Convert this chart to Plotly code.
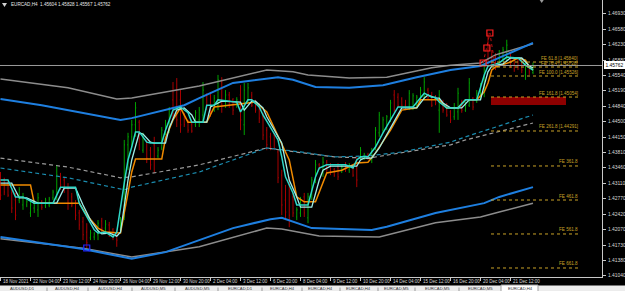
import plotly.graph_objects as go

# ---------------- data ----------------
bar_open = [1.4330,1.4319,1.4312,1.4290,1.4274,1.4274,1.4263,1.4263,1.4245,1.4256,1.4252,1.4270,1.4261,1.4263,1.4279,1.4285,1.4326,1.4319,1.4301,1.4281,
            1.4267,1.4245,1.4225,1.4202,1.4189,1.4191,1.4196,1.4227,1.4211,1.4218,1.4207,1.4196,1.4207,1.4236,1.4398,1.4416,1.4443,1.4449,1.4386,1.4404,
            1.4386,1.4398,1.4373,1.4391,1.4429,1.4431,1.4499,1.4521,1.4499,1.4465,1.4449,1.4443,1.4443,1.4454,1.4465,1.4510,1.4510,1.4476,1.4487,1.4539,
            1.4487,1.4510,1.4499,1.4487,1.4510,1.4443,1.4499,1.4510,1.4494,1.4483,1.4461,1.4431,1.4416,1.4420,1.4382,1.4330,1.4274,1.4308,1.4281,1.4236,
            1.4245,1.4281,1.4234,1.4281,1.4319,1.4353,1.4337,1.4359,1.4353,1.4342,1.4348,1.4337,1.4348,1.4342,1.4348,1.4364,1.4368,1.4368,1.4375,1.4364,
            1.4391,1.4425,1.4431,1.4436,1.4458,1.4510,1.4505,1.4501,1.4487,1.4483,1.4483,1.4487,1.4499,1.4505,1.4521,1.4510,1.4505,1.4476,1.4494,1.4487,
            1.4472,1.4461,1.4472,1.4494,1.4476,1.4487,1.4503,1.4496,1.4505,1.4521,1.4611,1.4600,1.4595,1.4582,1.4593,1.4600,1.4600,1.4589,1.4589,1.4582,
            1.4555,1.4573,1.45604]
bar_high = [1.4337,1.4324,1.4319,1.4297,1.4290,1.4303,1.4290,1.4274,1.4274,1.4274,1.4290,1.4274,1.4279,1.4281,1.4297,1.4353,1.4335,1.4326,1.4312,1.4290,
            1.4274,1.4252,1.4236,1.4222,1.4207,1.4202,1.4229,1.4234,1.4229,1.4225,1.4211,1.4207,1.4236,1.4409,1.4425,1.4454,1.4494,1.4454,1.4425,1.4409,
            1.4393,1.4416,1.4393,1.4438,1.4454,1.4483,1.4539,1.4548,1.4521,1.4470,1.4454,1.4447,1.4476,1.4483,1.4539,1.4514,1.4517,1.4510,1.4555,1.4550,
            1.4521,1.4517,1.4503,1.4505,1.4532,1.4537,1.4537,1.4517,1.4499,1.4492,1.4470,1.4438,1.4425,1.4425,1.4386,1.4342,1.4308,1.4326,1.4290,1.4258,
            1.4281,1.4290,1.4290,1.4326,1.4364,1.4357,1.4371,1.4364,1.4357,1.4346,1.4357,1.4353,1.4359,1.4357,1.4353,1.4371,1.4393,1.4380,1.4380,1.4391,
            1.4438,1.4472,1.4461,1.4465,1.4499,1.4521,1.4514,1.4505,1.4499,1.4521,1.4514,1.4510,1.4528,1.4550,1.4526,1.4517,1.4510,1.4521,1.4499,1.4492,
            1.4476,1.4492,1.4526,1.4499,1.4494,1.4548,1.4505,1.4521,1.4537,1.4582,1.4649,1.4611,1.4604,1.4611,1.4618,1.4634,1.4604,1.4593,1.4595,1.4589,
            1.4582,1.4575,1.45828]
bar_low = [1.4274,1.4285,1.4281,1.4245,1.4229,1.4267,1.4252,1.4258,1.4236,1.4245,1.4236,1.4252,1.4256,1.4258,1.4274,1.4274,1.4297,1.4290,1.4252,1.4258,
           1.4229,1.4207,1.4184,1.4166,1.4184,1.4184,1.4184,1.4200,1.4202,1.4191,1.4184,1.4169,1.4200,1.4229,1.4341,1.4393,1.4416,1.4386,1.4380,1.4357,
           1.4342,1.4335,1.4368,1.4386,1.4420,1.4425,1.4454,1.4438,1.4425,1.4438,1.4425,1.4425,1.4438,1.4438,1.4449,1.4476,1.4461,1.4472,1.4476,1.4470,
           1.4481,1.4481,1.4465,1.4481,1.4431,1.4420,1.4492,1.4483,1.4470,1.4447,1.4409,1.4386,1.4386,1.4386,1.4312,1.4240,1.4229,1.4213,1.4236,1.4229,
           1.4236,1.4236,1.4222,1.4274,1.4312,1.4342,1.4326,1.4335,1.4330,1.4326,1.4319,1.4335,1.4337,1.4335,1.4326,1.4303,1.4364,1.4364,1.4364,1.4357,
           1.4386,1.4416,1.4425,1.4431,1.4449,1.4470,1.4483,1.4483,1.4476,1.4476,1.4476,1.4483,1.4492,1.4499,1.4499,1.4483,1.4487,1.4425,1.4470,1.4461,
           1.4447,1.4454,1.4454,1.4470,1.4472,1.4483,1.4476,1.4492,1.4499,1.4505,1.4573,1.4573,1.4566,1.4573,1.4584,1.4589,1.4571,1.4562,1.4566,1.4559,
           1.4544,1.4555,1.45567]
bar_close = [1.4285,1.4292,1.4285,1.4256,1.4240,1.4297,1.4281,1.4270,1.4263,1.4267,1.4279,1.4258,1.4274,1.4276,1.4292,1.4330,1.4308,1.4297,1.4267,1.4263,
             1.4240,1.4218,1.4196,1.4178,1.4200,1.4198,1.4222,1.4211,1.4220,1.4200,1.4191,1.4184,1.4229,1.4398,1.4416,1.4443,1.4481,1.4398,1.4413,1.4368,
             1.4353,1.4364,1.4386,1.4431,1.4445,1.4476,1.4465,1.4454,1.4443,1.4443,1.4431,1.4429,1.4470,1.4476,1.4521,1.4487,1.4472,1.4503,1.4544,1.4487,
             1.4510,1.4487,1.4476,1.4499,1.4454,1.4521,1.4526,1.4487,1.4476,1.4458,1.4420,1.4398,1.4393,1.4391,1.4324,1.4263,1.4247,1.4240,1.4245,1.4252,
             1.4274,1.4245,1.4281,1.4319,1.4353,1.4346,1.4359,1.4342,1.4337,1.4330,1.4326,1.4348,1.4342,1.4353,1.4330,1.4319,1.4386,1.4375,1.4368,1.4386,
             1.4431,1.4465,1.4454,1.4461,1.4492,1.4476,1.4487,1.4487,1.4483,1.4514,1.4508,1.4505,1.4521,1.4539,1.4505,1.4487,1.4492,1.4510,1.4476,1.4465,
             1.4454,1.4483,1.4514,1.4476,1.4487,1.4537,1.4483,1.4514,1.4528,1.4577,1.4584,1.4582,1.4577,1.4604,1.4611,1.4622,1.4582,1.4571,1.4573,1.4566,
             1.4575,1.4562,1.45762]
bar_idx = list(range(len(bar_close)))

cyan_x = [0,2,4,6,9,14,16,20,21,23,25,26,28,30,31,33,34,35,36,37,39,40,43,44,46,48,50,51,54,55,57,58,63,64,66,67,69,70,74,75,76,78,79,82,84,85,87,92,94,95,96,98,100,102,104,106,110,112,113,115,116,117,119,122,124,127,128,129,130,133,135,138,140,141,142]
cyan_y = [1.4319,1.4319,1.4281,1.4281,1.4267,1.4267,1.4303,1.4303,1.4267,1.4236,1.4207,1.4200,1.4202,1.4191,1.4202,1.4312,1.4364,1.4393,1.4427,1.4427,1.4404,1.4402,1.4402,1.4431,1.4476,1.4483,1.4470,1.4449,1.4449,1.4487,1.4487,1.4499,1.4494,1.4472,1.4499,1.4499,1.4483,1.4465,1.4409,1.4371,1.4326,1.4290,1.4263,1.4263,1.4326,1.4346,1.4353,1.4353,1.4346,1.4364,1.4371,1.4371,1.4393,1.4425,1.4454,1.4483,1.4483,1.4505,1.4514,1.4505,1.4505,1.4494,1.4481,1.4481,1.4499,1.4499,1.4526,1.4555,1.4575,1.4582,1.4595,1.4593,1.4577,1.4571,1.4566]

pale_x = [0,3,5,7,10,15,17,20,22,24,26,27,29,31,32,34,35,36,37,38,40,41,44,45,47,49,51,52,55,56,58,59,64,65,67,68,70,71,75,76,77,79,80,83,85,86,88,95,96,97,99,101,103,105,107,111,113,114,116,117,118,120,123,125,128,129,130,131,134,136,139,141,142]
pale_y = [1.4312,1.4312,1.4279,1.4279,1.4267,1.4267,1.4301,1.4301,1.4263,1.4229,1.4205,1.4198,1.4200,1.4193,1.4202,1.4319,1.4364,1.4398,1.4425,1.4422,1.4404,1.4402,1.4402,1.4436,1.4476,1.4481,1.4465,1.4449,1.4449,1.4483,1.4492,1.4496,1.4494,1.4476,1.4496,1.4496,1.4481,1.4461,1.4402,1.4364,1.4319,1.4281,1.4258,1.4258,1.4319,1.4341,1.4350,1.4350,1.4364,1.4368,1.4368,1.4391,1.4422,1.4452,1.4481,1.4481,1.4503,1.4510,1.4503,1.4503,1.4492,1.4481,1.4481,1.4499,1.4499,1.4532,1.4562,1.4575,1.4580,1.4593,1.4593,1.4575,1.4571]

orange_x = [0,8,9,21,23,26,28,32,34,35,36,43,44,46,48,50,55,57,66,68,71,74,77,79,81,84,87,91,95,98,100,104,107,111,112,117,119,122,124,127,129,130,131,132,136,138,140,141,142]
orange_y = [1.4308,1.4308,1.4267,1.4267,1.4240,1.4211,1.4202,1.4200,1.4290,1.4337,1.4366,1.4366,1.4413,1.4454,1.4481,1.4449,1.4449,1.4483,1.4492,1.4494,1.4472,1.4416,1.4364,1.4281,1.4270,1.4270,1.4335,1.4341,1.4357,1.4359,1.4380,1.4431,1.4476,1.4481,1.4499,1.4499,1.4481,1.4481,1.4499,1.4499,1.4517,1.4537,1.4566,1.4573,1.4584,1.4593,1.4588,1.4573,1.4566]

up_gray_x = [0,18,31,35,53,71,78,82,93,103,115,120,128,132,142]
up_gray_y = [1.4546,1.4526,1.4501,1.4503,1.4530,1.4566,1.4562,1.4555,1.4548,1.4550,1.4571,1.4577,1.4582,1.4600,1.4625]
up_blue_x = [0,11,32,35,49,53,62,74,78,84,93,102,111,120,128,142]
up_blue_y = [1.4501,1.4487,1.4454,1.4458,1.4487,1.4503,1.4537,1.4550,1.4544,1.4528,1.4526,1.4532,1.4550,1.4566,1.4575,1.4627]
mid_gray_x = [0,18,32,35,53,71,75,89,98,107,120,124,142]
mid_gray_y = [1.4368,1.4348,1.4324,1.4326,1.4353,1.4391,1.4386,1.4371,1.4368,1.4380,1.4398,1.4409,1.4447]
mid_teal_x = [0,18,33,35,53,67,71,80,89,98,107,120,124,142]
mid_teal_y = [1.4346,1.4324,1.4297,1.4303,1.4337,1.4380,1.4391,1.4382,1.4371,1.4373,1.4382,1.4404,1.4416,1.4465]
lo_blue_x = [0,22,35,44,62,72,75,83,99,103,116,129,133,142]
lo_blue_y = [1.4191,1.4164,1.4142,1.4157,1.4211,1.4231,1.4234,1.4211,1.4207,1.4214,1.4245,1.4267,1.4281,1.4303]
lo_gray_x = [0,22,35,53,71,75,85,101,116,128,133,142]
lo_gray_y = [1.4187,1.4166,1.4146,1.4169,1.4211,1.4209,1.4193,1.4191,1.4223,1.4236,1.4247,1.4267]

fe_levels = ["61.8", "76.4", "100.0", "161.8", "261.8", "361.8", "461.8", "561.8", "661.8"]
fe_prices = [1.45840, 1.45728, 1.45526, 1.45054, 1.44291, 1.43505, 1.42741, 1.41978, 1.41214]
fe_show_price = [True, True, True, True, True, False, False, False, False]
fe_start, fe_end = 130.8, 154.5
zone_x = [130.8, 150.8]
zone_y = [1.44875, 1.45054]

zz_x = [128.7, 129.7, 130.5]
zz_y = [1.45818, 1.46155, 1.46492]
zz_path_x = [128.7, 129.7, 130.5, 132.0]
zz_path_y = [1.45818, 1.46155, 1.46492, 1.45706]
low_mark_x, low_mark_y = [23], [1.41663]

current_price = 1.45762
header = "EURCAD,H4  1.45604 1.45828 1.45567 1.45762"

price_ticks = [1.46930, 1.46580, 1.46230, 1.45880, 1.45540, 1.45190, 1.44840, 1.44500, 1.44150,
               1.43810, 1.43460, 1.43110, 1.42770, 1.42420, 1.42070, 1.41730, 1.41380, 1.41040]
time_idx = [0, 8, 16, 24, 32, 40, 48, 56, 64, 72, 80, 88, 96, 104, 112, 120, 128, 136]
time_text = ["18 Nov 2021", "22 Nov 04:00", "23 Nov 12:00", "24 Nov 20:00", "26 Nov 04:00", "29 Nov 12:00",
             "30 Nov 20:00", "2 Dec 04:00", "3 Dec 12:00", "6 Dec 20:00", "8 Dec 04:00", "9 Dec 12:00",
             "10 Dec 20:00", "14 Dec 04:00", "15 Dec 12:00", "16 Dec 20:00", "20 Dec 04:00", "21 Dec 12:00"]
tab_names = ["AUDUSD,D1", "AUDUSD,H4", "AUDUSD,H4", "AUDUSD,M5", "AUDUSD,M5", "EURCAD,D1", "EURCAD,H4",
             "EURCAD,H4", "EURCAD,H4", "EURCAD,M5", "EURCAD,M5", "EURCAD,M5", "EURCAD,H4"]
tab_centers_px = [22, 67, 110, 153, 197, 240, 282, 320, 358, 396, 437, 480, 520]
tab_seps_px = [47, 88, 132, 175, 218, 262, 302, 340, 378, 415, 459]

# ---------------- layout constants ----------------
W, H = 625, 291
PL, PR, PT, PB = 0, 23, 0, 14
PW, PH = W - PL - PR, H - PT - PB
FONT = "Liberation Sans"
AX = "#c8c8c8"
GOLD = "#c9a227"

def px(xp):
    return (xp - PL) / PW

def py(yp):
    return (PH - yp) / PH

fig = go.Figure()

def add_line(x, y, color, width, dash="solid"):
    fig.add_trace(go.Scatter(x=x, y=y, mode="lines", line=dict(color=color, width=width, dash=dash),
                             hoverinfo="skip", showlegend=False))

add_line(up_gray_x, up_gray_y, "#8c8c8c", 1.5)
add_line(lo_gray_x, lo_gray_y, "#8c8c8c", 1.5)
add_line(up_blue_x, up_blue_y, "#1e7fe0", 2)
add_line(lo_blue_x, lo_blue_y, "#1e7fe0", 2)
add_line(mid_gray_x, mid_gray_y, "#9a9a9a", 1.2, "4px,3px")
add_line(mid_teal_x, mid_teal_y, "#1b8db0", 1.2, "4px,3px")

fig.add_trace(go.Ohlc(x=bar_idx, open=bar_open, high=bar_high, low=bar_low, close=bar_close,
                      increasing=dict(line=dict(color="#00a000", width=1)),
                      decreasing=dict(line=dict(color="#a80000", width=1)),
                      tickwidth=0.2, hoverinfo="skip", showlegend=False))

add_line(orange_x, orange_y, "#f08a00", 1.5)
add_line(pale_x, pale_y, "#9eeee8", 1.3)
add_line(cyan_x, cyan_y, "#2fd8c8", 1.5)

# zigzag path and markers
add_line(zz_path_x, zz_path_y, "#c01010", 1, "dot")
fig.add_trace(go.Scatter(x=zz_x, y=zz_y, mode="markers",
                         marker=dict(symbol="square-open", size=6, color="#ff2020", line=dict(width=1.2)),
                         hoverinfo="skip", showlegend=False))
fig.add_trace(go.Scatter(x=low_mark_x, y=low_mark_y, mode="markers",
                         marker=dict(symbol="square-open", size=6, color="#2020ff", line=dict(width=1.2)),
                         hoverinfo="skip", showlegend=False))

shapes = []
shapes.append(dict(type="rect", xref="x", yref="y", x0=zone_x[0], x1=zone_x[1], y0=zone_y[0], y1=zone_y[1],
                   fillcolor="#8e0000", line=dict(width=0), layer="above"))
annotations = []
for lvl, p, show in zip(fe_levels, fe_prices, fe_show_price):
    shapes.append(dict(type="line", xref="x", yref="y", x0=fe_start, x1=fe_end, y0=p, y1=p,
                       line=dict(color=GOLD, width=1, dash="dot"), layer="above"))
    txt = f"FE {lvl} [{p:.5f}]" if show else f"FE {lvl}"
    annotations.append(dict(x=fe_end, y=p, xref="x", yref="y", text=txt, showarrow=False,
                            xanchor="right", yanchor="bottom", yshift=-0.5,
                            font=dict(family=FONT, size=4.6, color=GOLD)))
shapes.append(dict(type="line", xref="paper", yref="y", x0=0, x1=1, y0=current_price, y1=current_price,
                   line=dict(color="#9a9a9a", width=1), layer="above"))
sx = px(541.7)
shapes.append(dict(type="path", xref="paper", yref="paper",
                   path=f"M {sx - 2/PW} {py(0)} L {sx + 2/PW} {py(0)} L {sx} {py(3)} Z",
                   fillcolor="#9a9a9a", line=dict(width=0)))
shapes.append(dict(type="path", xref="paper", yref="paper",
                   path=f"M {px(2)} {py(3)} L {px(7)} {py(3)} L {px(4.5)} {py(7)} Z",
                   fillcolor="#d0d0d0", line=dict(width=0)))
# tab bar
shapes.append(dict(type="rect", xref="paper", yref="paper", x0=px(0), x1=px(W), y0=py(285.5), y1=py(H + 2),
                   fillcolor="#ececec", line=dict(width=0)))
shapes.append(dict(type="rect", xref="paper", yref="paper", x0=px(501), x1=px(538), y0=py(285), y1=py(H + 2),
                   fillcolor="#ffffff", line=dict(color="#a0a0a0", width=1)))
for s in tab_seps_px:
    shapes.append(dict(type="line", xref="paper", yref="paper", x0=px(s), x1=px(s), y0=py(287.5), y1=py(H + 2),
                       line=dict(color="#9a9a9a", width=1)))

for name, c in zip(tab_names, tab_centers_px):
    annotations.append(dict(x=px(c), y=py(288.6), xref="paper", yref="paper", text=name, showarrow=False,
                            xanchor="center", yanchor="middle",
                            font=dict(family=FONT, size=4.2, color="#303030")))

for ix, t in zip(time_idx, time_text):
    annotations.append(dict(x=ix, y=py(281.3), xref="x", yref="paper", text=t, showarrow=False,
                            xanchor="left", yanchor="middle", xshift=0.5,
                            font=dict(family=FONT, size=4.5, color="#d8d8d8")))
for p in price_ticks:
    annotations.append(dict(x=px(605.5), y=p, xref="paper", yref="y", text=f"{p:.5f}", showarrow=False,
                            xanchor="left", yanchor="middle",
                            font=dict(family=FONT, size=4.9, color="#d8d8d8")))
annotations.append(dict(x=px(603.5), y=current_price, xref="paper", yref="y", text=f"{current_price:.5f}",
                        showarrow=False, xanchor="left", yanchor="middle", bgcolor="#ffffff",
                        bordercolor="#ffffff", borderpad=0.5,
                        font=dict(family=FONT, size=4.9, color="#000000")))
annotations.append(dict(x=px(9), y=py(4.8), xref="paper", yref="paper", text=header, showarrow=False,
                        xanchor="left", yanchor="middle", font=dict(family=FONT, size=4.6, color="#e8e8e8")))

x_lo = (0 - 0.5) / 3.75
x_hi = (PW - 0.5) / 3.75
y_hi = 1.47233
y_lo = 1.47233 - PH * 0.0002246

fig.update_layout(
    width=W, height=H, margin=dict(l=PL, r=PR, t=PT, b=PB, pad=0),
    paper_bgcolor="#000000", plot_bgcolor="#000000",
    shapes=shapes, annotations=annotations, showlegend=False,
    xaxis=dict(range=[x_lo, x_hi], showgrid=False, zeroline=False, showline=True, linecolor=AX, linewidth=1,
               ticks="outside", tickvals=time_idx, ticklen=3, tickcolor=AX, showticklabels=False,
               rangeslider=dict(visible=False), fixedrange=True),
    yaxis=dict(range=[y_lo, y_hi], side="right", showgrid=False, zeroline=False, showline=True, linecolor=AX,
               linewidth=1, ticks="outside", tickvals=price_ticks, ticklen=3, tickcolor=AX,
               showticklabels=False, fixedrange=True),
)

fig.write_html("out.html", config={"displayModeBar": False})
